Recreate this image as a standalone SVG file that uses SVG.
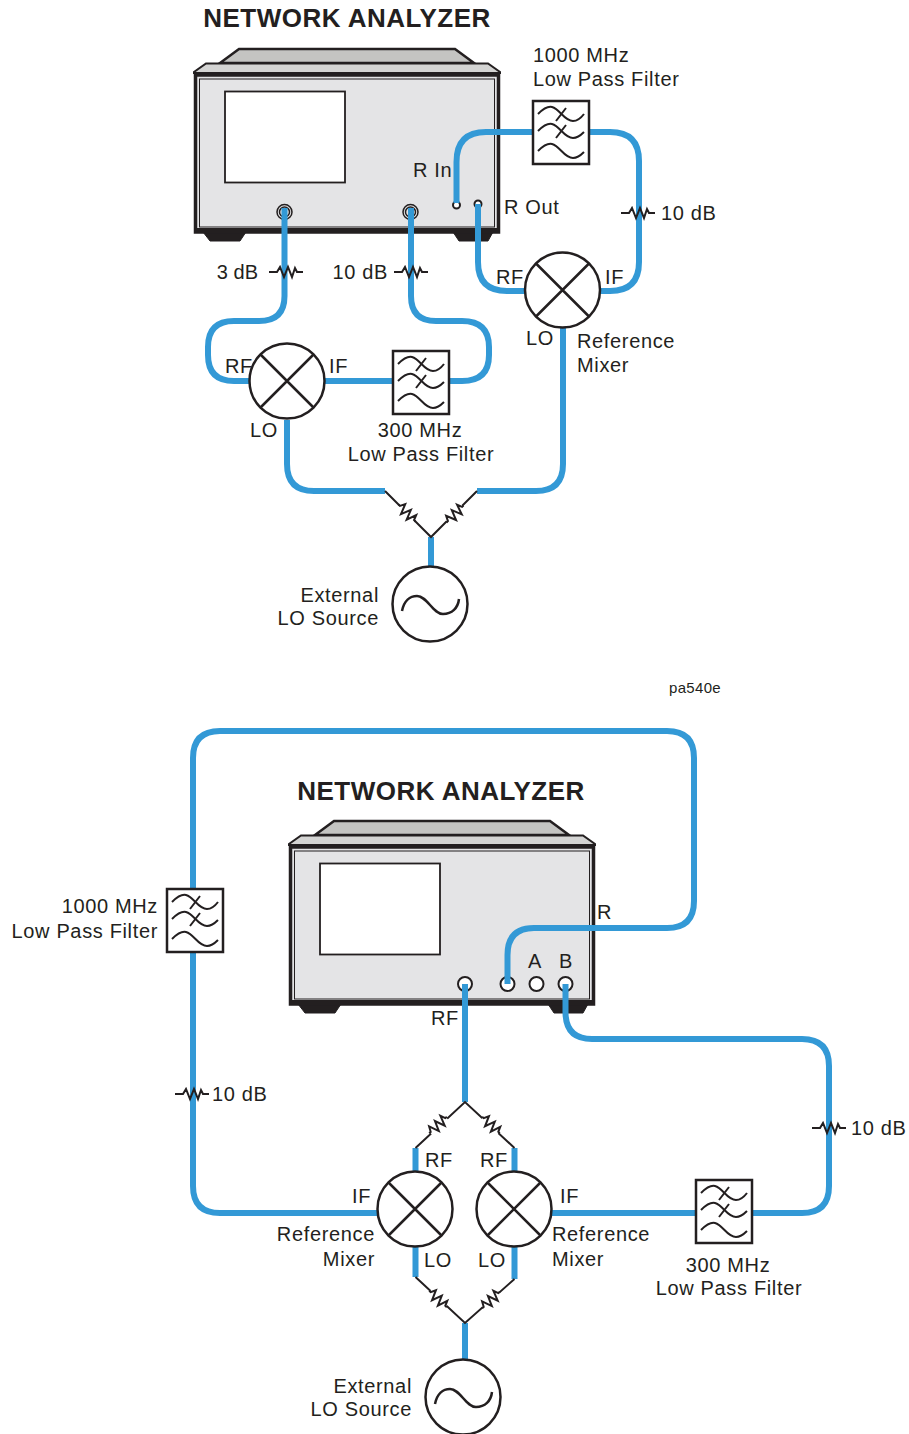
<svg xmlns="http://www.w3.org/2000/svg" width="909" height="1434" viewBox="0 0 909 1434">
<style>
text{font-family:"Liberation Sans",Arial,sans-serif;font-size:20px;letter-spacing:.65px;fill:#231f20}
.t{font-size:26px;font-weight:bold;letter-spacing:.5px}
.s{font-size:15px;letter-spacing:.3px}
.e{text-anchor:end}.m{text-anchor:middle}
.c{fill:none;stroke:#3399d6;stroke-width:6}
.k{fill:none;stroke:#231f20;stroke-width:2}
.k3{fill:none;stroke:#231f20;stroke-width:2.5}
.bw{fill:#fff;stroke:#231f20;stroke-width:2.5}
.port{fill:#fff;stroke:#231f20;stroke-width:2}
.pin{fill:none;stroke:#231f20;stroke-width:1.5}
</style>
<defs>
<g id="an">
<path d="M26 15L45 1H261L280 15Z" fill="#c4c4c2" stroke="#231f20" stroke-width="2.500"/>
<path d="M0 25L0 24L12 15.500H294L306 24L306 25Z" fill="#d4d4d3" stroke="#231f20" stroke-width="2"/>
<path d="M9 184L16 193H46L52 184ZM259 184L265 193H294L299 184Z" fill="#231f20" stroke="#231f20"/>
<rect x="1.500" y="27" width="303" height="157" fill="#e4e4e6" stroke="#231f20" stroke-width="3.500"/>
<rect x="5.500" y="31" width="295" height="148" fill="#e4e4e6" stroke="#231f20" stroke-width="1"/>
<rect x="0" y="180" width="306" height="5" fill="#231f20"/>
<rect x="31" y="43.500" width="120" height="91" fill="#fff" stroke="#231f20" stroke-width="1.800"/>
</g>
<g id="flt">
<rect x="1" y="1" width="56" height="63" fill="#fff" stroke="#231f20" stroke-width="2.500"/>
<path class="k" d="M6 14C12 8 16 6 20 7C28 9 32 21 41 21C46 21 49 18 52 14M6 31C12 25 16 23 20 24C28 26 32 38 41 38C46 38 49 35 52 32M6 51C12 45 16 43 20 44C28 46 32 58 41 58C46 58 49 55 52 52M34 8L24 21M34 25L24 38"/>
</g>
<g id="mix">
<circle r="37.500" class="bw"/>
<path class="k3" d="M-26.500 -26.500L26.500 26.500M-26.500 26.500L26.500 -26.500"/>
</g>
<g id="src">
<circle r="37.500" class="bw"/>
<path class="k3" d="M-28 7C-26 -3 -20 -8 -13 -8C-3 -8 3 10 13 10C22 10 28 4 29 -5"/>
</g>
<path id="atn" class="k" d="M-17 0H-9L-6 -5L-2 5L2 -5L6 5L9 -4L11 0H17"/>
<g id="res">
<rect x="-11" y="-7" width="22" height="14" fill="#fff"/>
<path class="k" d="M-12 0H-10L-7.500 -5L-3.500 5L.5 -5L4.500 5L8 -5L10 0H12"/>
</g>
</defs>

<g id="labels-page">
<text x="347" y="27" class="t m">NETWORK ANALYZER</text>
<text x="441" y="800" class="t m">NETWORK ANALYZER</text>
<text x="695" y="693" class="s m">pa540e</text>
</g>

<g id="analyzer1"><use href="#an" x="194" y="48"/></g>
<g id="analyzer2"><use href="#an" x="289" y="820"/></g>

<g id="ports">
<circle cx="284.500" cy="212" r="7.500" class="pin" fill="#fff"/><circle cx="284.500" cy="212" r="5" class="pin"/>
<circle cx="410.500" cy="212" r="7.500" class="pin"/><circle cx="410.500" cy="212" r="5" class="pin"/>
<circle cx="456.500" cy="205" r="3.500" class="port"/>
<circle cx="478" cy="204" r="3.500" class="port"/>
<circle cx="465" cy="984" r="7" class="port"/>
<circle cx="507.500" cy="984" r="7" class="port"/>
<circle cx="536.500" cy="984" r="7" class="port"/>
<circle cx="565.500" cy="984" r="7" class="port"/>
</g>

<g id="connectors">
<path class="c" d="M456.500 203V162Q456.500 132 486 132H533M590 132H610Q639 132 639 161V262Q639 291 610 291H600"/>
<path class="c" d="M478 204V262Q478 291 507 291H525"/>
<path class="c" d="M284.500 208V296Q284.500 321 259 321H234Q208 321 208 347V355Q208 381 234 381H250"/>
<path class="c" d="M411 208V296Q411 321 436 321H462Q489 321 489 347V355Q489 381 462 381H449M392 381H325"/>
<path class="c" d="M287 420V464Q287 491 314 491H385M477 491H536Q563 491 563 464V327"/>
<path class="c" d="M431 537V567"/>
<path class="c" d="M507.500 984V955Q507.500 928 534 928H667Q694 928 694 901V758Q694 731 667 731H220Q193 731 193 758V888M193 952V1186Q193 1213 220 1213H377"/>
<path class="c" d="M565.500 984V1012Q565.500 1039 592 1039H802Q829 1039 829 1066V1186Q829 1213 802 1213H752M695 1213H551"/>
<path class="c" d="M465 984V1102M465 1323V1360"/>
<path class="c" d="M415.500 1148V1172M514.500 1148V1172M415.500 1247V1277M514.500 1247V1279"/>
<g id="lines">
<path class="k" d="M385 491L431 537L477 491"/>
<path class="k" d="M415.500 1148L465 1102L514.500 1148"/>
<path class="k" d="M415.500 1277L465 1323L514.500 1279"/>
</g>
</g>

<g id="resistors">
<use href="#res" transform="translate(407 513) rotate(45)"/>
<use href="#res" transform="translate(455 514) rotate(-45)"/>
<use href="#res" transform="translate(438 1125) rotate(-43)"/>
<use href="#res" transform="translate(491 1125) rotate(43)"/>
<use href="#res" transform="translate(438 1299) rotate(43)"/>
<use href="#res" transform="translate(491 1300) rotate(-43)"/>
</g>
<g id="atten-1"><use href="#atn" x="286" y="272"/><text x="258" y="279" class="e" style="letter-spacing:0">3 dB</text></g>
<g id="atten-2"><use href="#atn" x="411" y="272"/><text x="388" y="279" class="e">10 dB</text></g>
<g id="atten-3"><use href="#atn" x="638" y="213"/><text x="661" y="220">10 dB</text></g>
<g id="atten-4"><use href="#atn" x="192" y="1094"/><text x="212" y="1101">10 dB</text></g>
<g id="atten-5"><use href="#atn" x="829" y="1128"/><text x="851" y="1135">10 dB</text></g>

<g id="filter-1"><use href="#flt" x="532" y="100"/><text x="533" y="62">1000 MHz</text><text x="533" y="86">Low Pass Filter</text></g>
<g id="filter-2"><use href="#flt" x="392" y="350"/><text x="420" y="437" class="m">300 MHz</text><text x="421" y="461" class="m">Low Pass Filter</text></g>
<g id="filter-3"><use href="#flt" x="166" y="888"/><text x="158" y="913" class="e">1000 MHz</text><text x="158" y="938" class="e">Low Pass Filter</text></g>
<g id="filter-4"><use href="#flt" x="695" y="1179"/><text x="728" y="1272" class="m">300 MHz</text><text x="729" y="1295" class="m">Low Pass Filter</text></g>

<g id="mixer-1"><use href="#mix" x="562.500" y="290"/><text x="496" y="284">RF</text><text x="605" y="284">IF</text><text x="526" y="345">LO</text><text x="577" y="348">Reference</text><text x="577" y="372">Mixer</text></g>
<g id="mixer-2"><use href="#mix" x="287" y="381"/><text x="225" y="373">RF</text><text x="329" y="373">IF</text><text x="250" y="437">LO</text></g>
<g id="mixer-3"><use href="#mix" x="415" y="1209"/><text x="425" y="1167">RF</text><text x="352" y="1203">IF</text><text x="424" y="1267">LO</text><text x="375" y="1241" class="e">Reference</text><text x="375" y="1266" class="e">Mixer</text></g>
<g id="mixer-4"><use href="#mix" x="514" y="1209"/><text x="480" y="1167">RF</text><text x="560" y="1203">IF</text><text x="478" y="1267">LO</text><text x="552" y="1241">Reference</text><text x="552" y="1266">Mixer</text></g>

<g id="source-1"><use href="#src" x="430" y="604"/><text x="379" y="602" class="e">External</text><text x="379" y="625" class="e">LO Source</text></g>
<g id="source-2"><use href="#src" x="463" y="1397"/><text x="412" y="1393" class="e">External</text><text x="412" y="1416" class="e">LO Source</text></g>

<g id="port-labels">
<text x="413" y="177">R In</text>
<text x="504" y="214">R Out</text>
<text x="597" y="919">R</text>
<text x="535" y="968" class="m">A</text>
<text x="566" y="968" class="m">B</text>
<text x="431" y="1025">RF</text>
</g>
</svg>
